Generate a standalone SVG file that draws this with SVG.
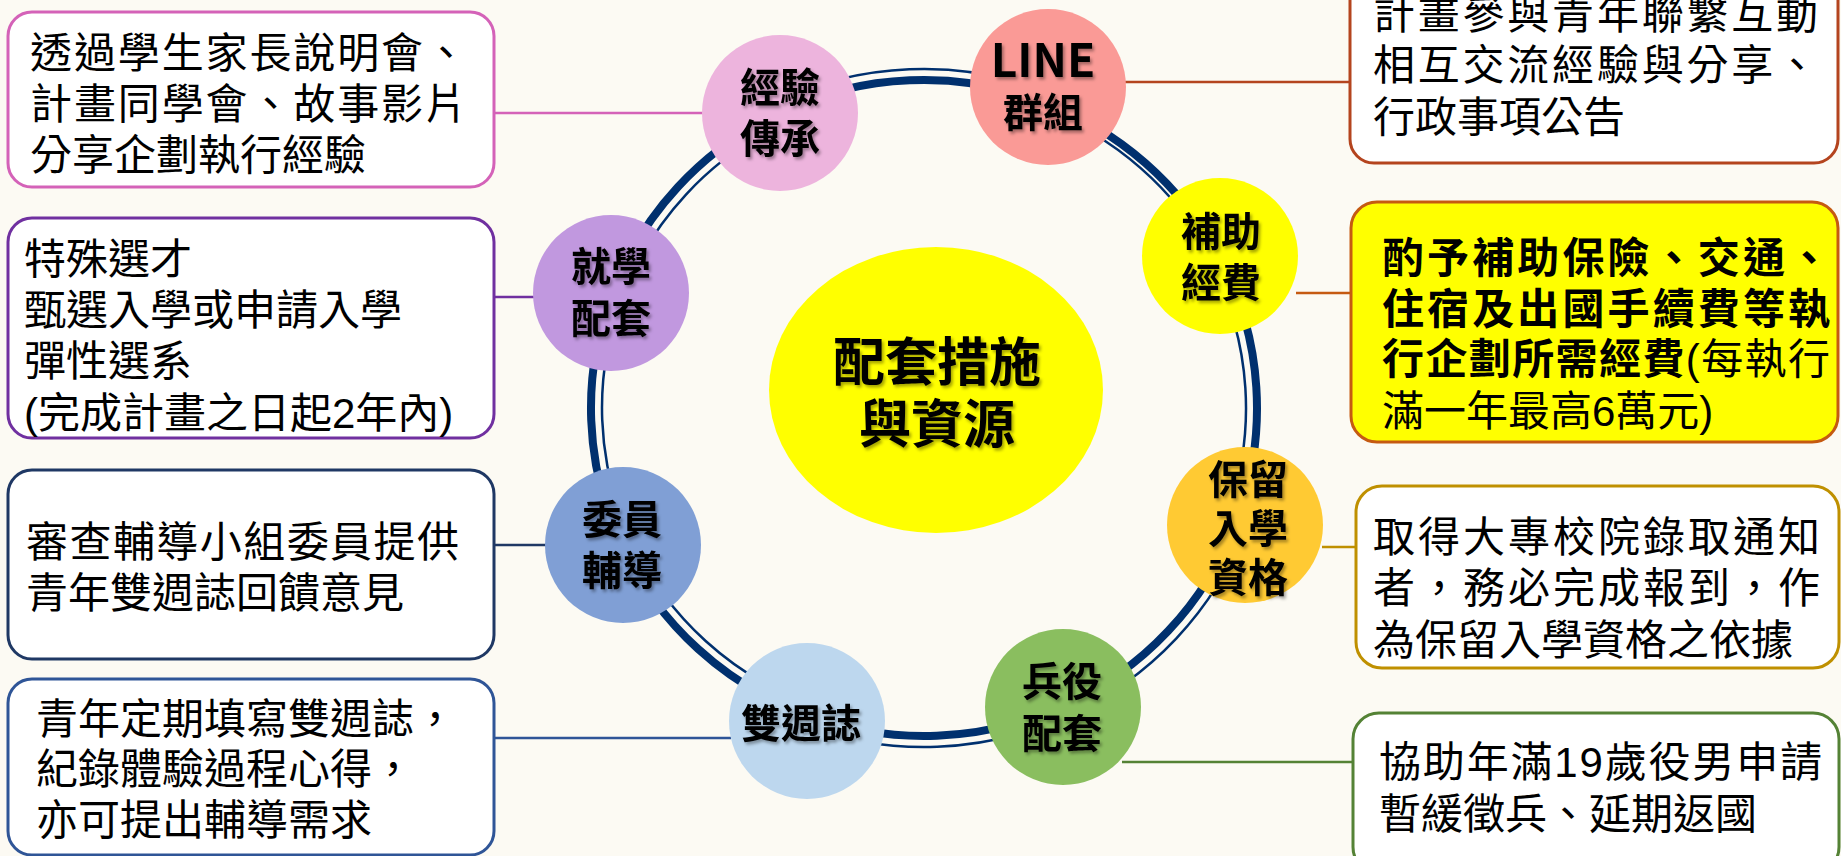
<svg xmlns="http://www.w3.org/2000/svg" width="1841" height="856" viewBox="0 0 1841 856">
<defs>
<style>
.bg{fill:#FCFAF3}
.box{fill:#FFFFFF;stroke-width:3}
.t{font-family:'Liberation Sans','Noto Sans CJK TC',sans-serif;font-size:42px;fill:#000}
.b{font-weight:bold}
.n{font-family:'Noto Sans CJK TC','Liberation Sans',sans-serif;font-weight:bold;font-size:40px;text-anchor:middle;fill:#000;filter:url(#sh)}
.rk{fill:none;stroke:#00306E;stroke-width:8}
.rn{fill:none;stroke:#00306E;stroke-width:2.5}
.cn{fill:none;stroke-width:2.5}
</style>
<filter id="sh" x="-10%" y="-20%" width="130%" height="150%">
<feDropShadow dx="2" dy="2.5" stdDeviation="1.5" flood-color="#000" flood-opacity="0.35"/>
</filter>
</defs>
<rect class="bg" x="0" y="0" width="1841" height="856"/>

<g id="connectors">
<path class="rk" d="M612.1,293.1 A333,328 0 0 1 779.6,112.4"/>
<path class="rn" d="M622.4,297 A322,317 0 0 1 784.3,122.4"/>
<path class="rk" d="M779.6,112.4 A333,328 0 0 1 1042.2,101.4"/>
<path class="rn" d="M774.8,102.5 A344,339 0 0 1 1046.2,91.1"/>
<path class="rk" d="M1042.2,101.4 A333,328 0 0 1 1219.4,256.6"/>
<path class="rn" d="M1039.8,107.9 A326,321 0 0 1 1213.2,259.8"/>
<path class="rk" d="M1219.4,256.6 A333,328 0 0 1 1236.3,521.8"/>
<path class="rn" d="M1209.6,261.6 A322,317 0 0 1 1226,518"/>
<path class="rk" d="M1236.3,521.8 A333,328 0 0 1 1062.6,706.2"/>
<path class="rn" d="M1246.6,525.6 A344,339 0 0 1 1067.2,716.2"/>
<path class="rk" d="M1062.6,706.2 A333,328 0 0 1 809,715.8"/>
<path class="rn" d="M1067.2,716.2 A344,339 0 0 1 805.2,726.2"/>
<path class="rk" d="M809,715.8 A333,328 0 0 1 621.7,545.6"/>
<path class="rn" d="M812.8,705.5 A322,317 0 0 1 631.7,541"/>
<path class="rk" d="M621.7,545.6 A333,328 0 0 1 612.1,293.1"/>
<path class="rn" d="M631.7,541 A322,317 0 0 1 622.4,297"/>

<line class="cn" x1="494" y1="113" x2="703" y2="113" stroke="#D462B8"/>
<line class="cn" x1="1125" y1="82" x2="1350" y2="82" stroke="#B4441E"/>
<line class="cn" x1="494" y1="297" x2="535" y2="297" stroke="#7030A0"/>
<line class="cn" x1="1296" y1="293" x2="1351" y2="293" stroke="#C55A11"/>
<line class="cn" x1="494" y1="545" x2="546" y2="545" stroke="#1F3864"/>
<line class="cn" x1="1322" y1="547" x2="1356" y2="547" stroke="#BF9000"/>
<line class="cn" x1="494" y1="738" x2="731" y2="738" stroke="#2F5597"/>
<line class="cn" x1="1122" y1="762" x2="1352" y2="762" stroke="#548235"/>
</g>

<g id="center">
<ellipse cx="936" cy="390" rx="167" ry="143" fill="#FFFF00"/>
<text class="n" x="937" y="381" style="font-size:52px">配套措施</text>
<text class="n" x="937" y="443" style="font-size:52px">與資源</text>
</g>

<g id="node-experience">
<circle cx="780" cy="113" r="78" fill="#EDB4DD"/>
<text class="n" x="780" y="102">經驗</text>
<text class="n" x="780" y="153">傳承</text>
</g>
<g id="node-line">
<circle cx="1048" cy="87" r="78" fill="#FA9A96"/>
<text class="n" x="1043" y="77" style="font-size:46px">LINE</text>
<text class="n" x="1043" y="127">群組</text>
</g>
<g id="node-subsidy">
<circle cx="1220" cy="256" r="78" fill="#FFFF00"/>
<text class="n" x="1221" y="246">補助</text>
<text class="n" x="1221" y="297">經費</text>
</g>
<g id="node-reserve">
<circle cx="1245" cy="525" r="78" fill="#FFCA33"/>
<text class="n" x="1248" y="494">保留</text>
<text class="n" x="1248" y="543">入學</text>
<text class="n" x="1248" y="592">資格</text>
</g>
<g id="node-military">
<circle cx="1063" cy="707" r="78" fill="#8ABE5F"/>
<text class="n" x="1062" y="696">兵役</text>
<text class="n" x="1062" y="748">配套</text>
</g>
<g id="node-journal">
<circle cx="807" cy="721" r="78" fill="#BDD7EE"/>
<text class="n" x="801" y="738">雙週誌</text>
</g>
<g id="node-committee">
<circle cx="623" cy="545" r="78" fill="#809FD5"/>
<text class="n" x="622" y="534">委員</text>
<text class="n" x="622" y="585">輔導</text>
</g>
<g id="node-study">
<circle cx="611" cy="293" r="78" fill="#C198DF"/>
<text class="n" x="611" y="281">就學</text>
<text class="n" x="611" y="333">配套</text>
</g>

<g id="box-experience">
<rect class="box" x="8" y="12" width="486" height="175" rx="24" stroke="#D462B8"/>
<text class="t" x="30" y="68" textLength="437" lengthAdjust="spacing">透過學生家長說明會、</text>
<text class="t" x="30" y="119" textLength="437" lengthAdjust="spacing">計畫同學會、故事影片</text>
<text class="t" x="30" y="170">分享企劃執行經驗</text>
</g>
<g id="box-study">
<rect class="box" x="8" y="218" width="486" height="220" rx="24" stroke="#7030A0"/>
<text class="t" x="24" y="274">特殊選才</text>
<text class="t" x="24" y="325">甄選入學或申請入學</text>
<text class="t" x="24" y="376">彈性選系</text>
<text class="t" x="24" y="428">(完成計畫之日起2年內)</text>
</g>
<g id="box-committee">
<rect class="box" x="8" y="470" width="486" height="189" rx="24" stroke="#1F3864"/>
<text class="t" x="26" y="557" textLength="433" lengthAdjust="spacing">審查輔導小組委員提供</text>
<text class="t" x="26" y="608">青年雙週誌回饋意見</text>
</g>
<g id="box-journal">
<rect class="box" x="8" y="679" width="486" height="176" rx="24" stroke="#2F5597"/>
<text class="t" x="36" y="734">青年定期填寫雙週誌，</text>
<text class="t" x="36" y="784">紀錄體驗過程心得，</text>
<text class="t" x="36" y="835">亦可提出輔導需求</text>
</g>
<g id="box-line">
<rect class="box" x="1350" y="-37" width="488" height="200" rx="24" stroke="#B4441E"/>
<text class="t" x="1373" y="29" textLength="445" lengthAdjust="spacing">計畫參與青年聯繫互動</text>
<text class="t" x="1373" y="80" textLength="445" lengthAdjust="spacing">相互交流經驗與分享、</text>
<text class="t" x="1373" y="132">行政事項公告</text>
</g>
<g id="box-subsidy">
<rect class="box" x="1351" y="202" width="487" height="240" rx="26" stroke="#C55A11" style="fill:#FFFF00"/>
<text class="t b" x="1382" y="273" textLength="448" lengthAdjust="spacing">酌予補助保險、交通、</text>
<text class="t b" x="1382" y="324" textLength="448" lengthAdjust="spacing">住宿及出國手續費等執</text>
<text class="t" x="1382" y="374" textLength="448" lengthAdjust="spacing"><tspan class="b">行企劃所需經費</tspan>(每執行</text>
<text class="t" x="1382" y="426">滿一年最高6萬元)</text>
</g>
<g id="box-reserve">
<rect class="box" x="1356" y="486" width="483" height="182" rx="26" stroke="#BF9000"/>
<text class="t" x="1373" y="552" textLength="447" lengthAdjust="spacing">取得大專校院錄取通知</text>
<text class="t" x="1373" y="603" textLength="447" lengthAdjust="spacing">者，務必完成報到，作</text>
<text class="t" x="1373" y="655">為保留入學資格之依據</text>
</g>
<g id="box-military">
<rect class="box" x="1353" y="713" width="486" height="160" rx="26" stroke="#548235"/>
<text class="t" x="1379" y="777" textLength="443" lengthAdjust="spacing">協助年滿19歲役男申請</text>
<text class="t" x="1379" y="829">暫緩徵兵、延期返國</text>
</g>
</svg>
